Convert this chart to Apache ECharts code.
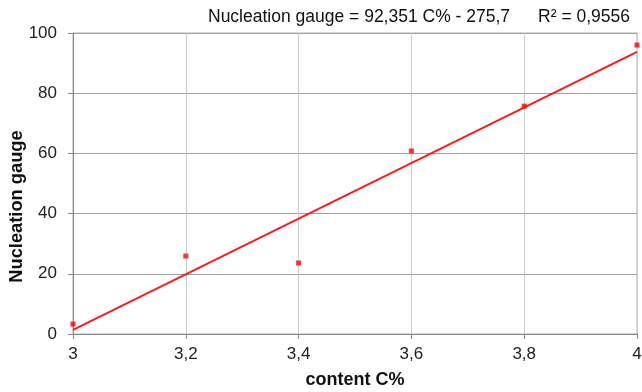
<!DOCTYPE html>
<html><head><meta charset="utf-8">
<script src="https://cdn.jsdelivr.net/npm/echarts@6/dist/echarts.min.js"></script>
<style>html,body{margin:0;padding:0;background:#fff}#c{width:642px;height:392px}</style>
</head><body><div id="c"></div>
<script>
var carbon = [3.0, 3.2, 3.4, 3.6, 3.8, 4.0];
var gauge = [3.3, 25.9, 23.6, 60.8, 75.7, 96.0];
var slope = 92.351;
var intercept = -275.7;
var r2 = 0.9556;
var xTicks = [3, 3.2, 3.4, 3.6, 3.8, 4];
var yTicks = [0, 20, 40, 60, 80, 100];

var pts = carbon.map(function(c, i){ return [c, gauge[i]]; });
var trend = [xTicks[0], xTicks[xTicks.length-1]].map(function(x){ return [x, slope*x + intercept]; });
function comma(v){ return String(v).replace('.', ','); }
var FONT = '"Liberation Sans", Arial, sans-serif';
var tStyle = {fontFamily: FONT, fontSize: 17.5, fontWeight: 'normal', color: '#111'};

var chart = echarts.init(document.getElementById('c'), null, {renderer:'canvas'});
chart.setOption({
  animation: false,
  backgroundColor: '#fff',
  title: [
    {text: 'Nucleation gauge = ' + comma(slope) + ' C% - ' + comma(-intercept), left: 203, top: 3, textStyle: tStyle},
    {text: 'R² = ' + comma(r2), right: 7, top: 3, textStyle: tStyle}
  ],
  grid: {left: 73, right: 5, top: 33, bottom: 58, containLabel: false, outerBoundsMode: 'none',
    show: true, borderColor: '#b0b0b0', borderWidth: 1},
  xAxis: {
    type: 'value', min: 3, max: 4, interval: 0.2,
    name: 'content C%', nameLocation: 'middle', nameGap: 37, nameMoveOverlap: false,
    nameTextStyle: {fontFamily: FONT, fontSize: 18, fontWeight: 'bold', color: '#111'},
    axisLine: {show: true, lineStyle: {color: '#888', width: 1}},
    axisTick: {show: true, length: 5, lineStyle: {color: '#888'}},
    axisLabel: {fontFamily: FONT, fontSize: 17, color: '#222', margin: 12,
      formatter: function(v){ return comma(Math.round(v*10)/10); }},
    splitLine: {show: true, lineStyle: {color: '#cccccc', width: 1}}
  },
  yAxis: {
    type: 'value', min: 0, max: 100, interval: 20,
    name: 'Nucleation gauge', nameLocation: 'middle', nameGap: 47, nameRotate: 90, nameMoveOverlap: false,
    nameTextStyle: {fontFamily: FONT, fontSize: 18.3, fontWeight: 'bold', color: '#111', padding: [0, 46, 0, 0]},
    axisLine: {show: true, lineStyle: {color: '#888', width: 1}},
    axisTick: {show: true, length: 5, lineStyle: {color: '#888'}},
    axisLabel: {fontFamily: FONT, fontSize: 17, color: '#222', margin: 16},
    splitLine: {show: true, lineStyle: {color: '#a0a0a0', width: 1}}
  },
  series: [
    {type: 'line', data: trend, symbol: 'none', lineStyle: {color: '#ff1a1a', width: 2}, z: 2},
    {type: 'scatter', data: pts, symbol: 'rect', symbolSize: 5, itemStyle: {color: '#ff0000'}, z: 3}
  ]
});
</script></body></html>
